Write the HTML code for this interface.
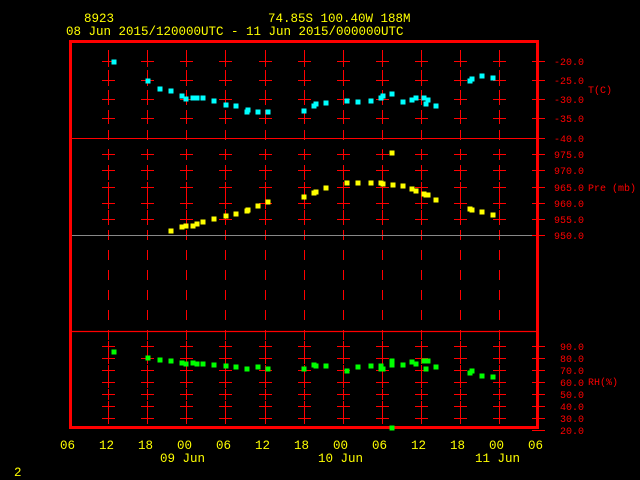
<!DOCTYPE html>
<html><head><meta charset="utf-8"><style>
html,body{margin:0;padding:0;background:#000;width:640px;height:480px;overflow:hidden}
svg text{font-family:"Liberation Mono","DejaVu Sans Mono",monospace;font-size:12.5px}
#lab text{font-size:10px}
</style></head><body>
<svg id="s" width="640" height="480" xmlns="http://www.w3.org/2000/svg">
<rect width="640" height="480" fill="#000"/>
<g fill="#ffff00">
<text x="84" y="22">8923</text>
<text x="268" y="22">74.85S  100.40W   188M</text>
<text x="66" y="35">08 Jun 2015/120000UTC - 11 Jun 2015/000000UTC</text>
<text x="60" y="449">06</text><text x="99" y="449">12</text><text x="138" y="449">18</text>
<text x="177" y="449">00</text><text x="216" y="449">06</text><text x="255" y="449">12</text>
<text x="294" y="449">18</text><text x="333" y="449">00</text><text x="372" y="449">06</text>
<text x="411" y="449">12</text><text x="450" y="449">18</text><text x="489" y="449">00</text>
<text x="528" y="449">06</text>
<text x="160" y="462">09 Jun</text><text x="318" y="462">10 Jun</text><text x="475" y="462">11 Jun</text>
<text x="14" y="476">2</text>
</g>
<g id="grid"></g>
<g fill="#ff0000" id="lab">
<text x="588" y="93">T(C)</text>
<text x="588" y="191">Pre (mb)</text>
<text x="588" y="385">RH(%)</text>
</g>
<g id="pts"></g>
</svg>
<script>
var NS="http://www.w3.org/2000/svg",g=document.getElementById("grid"),lab=document.getElementById("lab"),P=document.getElementById("pts");
function el(t,a,p){var e=document.createElementNS(NS,t);for(var k in a)e.setAttribute(k,a[k]);(p||g).appendChild(e);return e;}
function ln(x1,y1,x2,y2,c,w){el("line",{x1:x1,y1:y1,x2:x2,y2:y2,stroke:c||"#f00","stroke-width":w||1});}
var xs=[];for(var i=1;i<=11;i++)xs.push(Math.round(69+i*39.1));
xs.forEach(function(x){
 for(var y=50;y<428;y+=20)ln(x+0.5,y,x+0.5,y+10,"#f00",1);
});
var cy=[61,80,99,118,154,170,187,203,219,346,358,370,382,394,406,418];
xs.forEach(function(x){cy.forEach(function(y){ln(x-6,y+0.5,x+7,y+0.5);ln(x+0.5,y-5,x+0.5,y+6);});});
ln(69,138.5,538,138.5);ln(69,331.5,538,331.5,"#f00",1.2);ln(69,235.5,538,235.5,"#888",1);
el("rect",{x:70.5,y:41.5,width:467,height:386,fill:"none",stroke:"#f00","stroke-width":3});
var L=[[61,"-20.0"],[80,"-25.0"],[99,"-30.0"],[118,"-35.0"],[138,"-40.0"],[154,"975.0"],[170,"970.0"],[187,"965.0"],[203,"960.0"],[219,"955.0"],[235,"950.0"],
[346,"90.0"],[358,"80.0"],[370,"70.0"],[382,"60.0"],[394,"50.0"],[406,"40.0"],[418,"30.0"],[430,"20.0"]];
L.forEach(function(a){ln(532,a[0]+0.5,545,a[0]+0.5);var t=el("text",{x:584,y:a[0]+4,"text-anchor":"end"},lab);t.textContent=a[1];});
function pts(arr,c){arr.forEach(function(p){el("rect",{x:p[0]-2.5,y:p[1]-2.5,width:5,height:5,fill:c},P);});}
pts([[114,62],[148,81],[160,89],[171,91],[182,96],[186,99],[193,98],[197,98],[203,98],[214,101],[226,105],[236,106],[247,112],[248,110],[258,112],[268,112],[304,111],[314,106],[316,104],[326,103],[347,101],[358,102],[371,101],[381,98],[383,96],[392,94],[403,102],[412,100],[416,98],[424,98],[426,104],[428,100],[436,106],[470,81],[472,79],[482,76],[493,78]],"#00ffff");
pts([[171,231],[182,227],[186,226],[193,226],[197,224],[203,222],[214,219],[226,216],[236,214],[247,211],[248,210],[258,206],[268,202],[304,197],[314,193],[316,192],[326,188],[347,183],[358,183],[371,183],[381,183],[383,184],[392,153],[393,185],[403,186],[412,189],[416,191],[424,194],[426,195],[428,195],[436,200],[470,209],[472,210],[482,212],[493,215]],"#ffff00");
pts([[114,352],[148,358],[160,360],[171,361],[182,363],[186,364],[193,363],[197,364],[203,364],[214,365],[226,366],[236,367],[247,369],[258,367],[268,369],[304,369],[314,365],[316,366],[326,366],[347,371],[358,367],[371,366],[381,366],[381,369],[383,369],[392,361],[392,365],[403,365],[412,362],[416,364],[424,361],[426,369],[428,361],[436,367],[470,373],[472,371],[482,376],[493,377],[392,428]],"#00ff00");
</script>
</body></html>
